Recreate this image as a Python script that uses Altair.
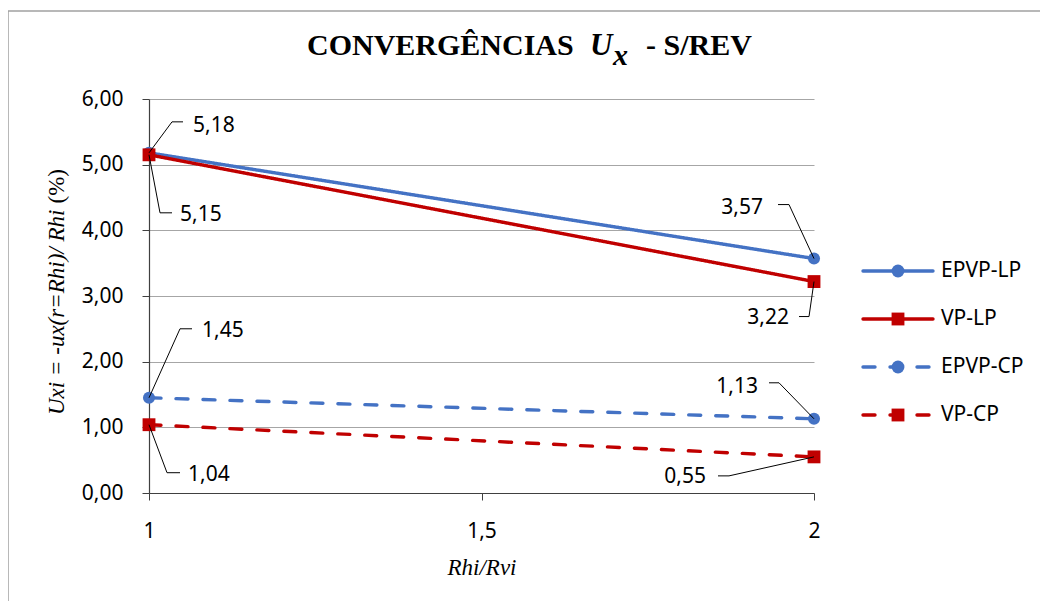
import altair as alt
import pandas as pd

# ---------------- data ----------------
x_vals = [1, 2]
series_names = ["EPVP-LP", "VP-LP", "EPVP-CP", "VP-CP"]
epvp_lp = [5.18, 3.57]
vp_lp = [5.15, 3.22]
epvp_cp = [1.45, 1.13]
vp_cp = [1.04, 0.55]
x_ticks = [1, 1.5, 2]
y_ticks = [0, 1, 2, 3, 4, 5, 6]

title_parts = ["CONVERGÊNCIAS", "U", "x", "- S/REV"]
y_title_parts = ["Uxi = -ux(r=Rhi)/ Rhi", "(%)"]
x_title = "Rhi/Rvi"

# ---------------- style ----------------
W, H = 665, 394
PAD = {"left": 141, "top": 91, "right": 227, "bottom": 108}
PX_X = W / (x_vals[1] - x_vals[0])
PX_Y = H / 6.0
BLUE, RED = "#4472C4", "#C00000"
colors = [BLUE, RED, BLUE, RED]
shapes = ["circle", "square", "circle", "square"]
dashes = [[1, 0], [1, 0], [12, 15], [12, 15]]
SANS = "Noto Sans"
SERIF = "Liberation Serif"
FS = 21

# label leader layout in pixels relative to the point:
# (elbow dx, elbow dy, end dx, end dy, text dx, text dy, align)
layout = {
    ("EPVP-LP", 0): (23, -31, 34, -31, 44, -27, "left"),
    ("VP-LP", 0): (11, 58, 23, 58, 31, 60, "left"),
    ("EPVP-LP", 1): (-25, -54, -36, -54, -51, -51, "right"),
    ("VP-LP", 1): (-5, 35, -15, 35, -25, 36, "right"),
    ("EPVP-CP", 0): (31, -69, 43, -69, 53, -67, "left"),
    ("VP-CP", 0): (18, 48, 31, 48, 39, 50, "left"),
    ("EPVP-CP", 1): (-35, -36, -45, -36, -56, -32, "right"),
    ("VP-CP", 1): (-85, 19, -96, 19, -108, 20, "right"),
}

all_vals = [epvp_lp, vp_lp, epvp_cp, vp_cp]
rows = []
for name, vals in zip(series_names, all_vals):
    for xv, yv in zip(x_vals, vals):
        rows.append({"series": name, "x": xv, "value": yv})
df = pd.DataFrame(rows)

lead_rows, text_rows = [], []
for name, vals in zip(series_names, all_vals):
    for i, (xv, yv) in enumerate(zip(x_vals, vals)):
        ex, ey, hx, hy, tx, ty, al = layout[(name, i)]
        lid = f"{name}-{i}"
        lead_rows += [
            {"lid": lid, "o": 0, "x": xv, "y": yv},
            {"lid": lid, "o": 1, "x": xv + ex / PX_X, "y": yv - ey / PX_Y},
            {"lid": lid, "o": 2, "x": xv + hx / PX_X, "y": yv - hy / PX_Y},
        ]
        text_rows.append({"x": xv + tx / PX_X, "y": yv - ty / PX_Y,
                          "label": f"{yv:.2f}".replace(".", ","), "align": al})
lead_df = pd.DataFrame(lead_rows)
text_df = pd.DataFrame(text_rows)

xscale = alt.Scale(domain=[1, 2], nice=False, zero=False)
yscale = alt.Scale(domain=[0, 6], nice=False)
cscale = alt.Scale(domain=series_names, range=colors)
dscale = alt.Scale(domain=series_names, range=dashes)

X = alt.X("x:Q", scale=xscale, axis=alt.Axis(
    values=x_ticks, title=None, grid=False, labelFlush=False,
    labelExpr="replace(format(datum.value, ''), '.', ',')",
    labelFont=SANS, labelFontSize=FS, labelColor="#000000",
    labelPadding=20, tickSize=7, tickColor="#404040",
    domainColor="#404040", domainWidth=1.2))
Y = alt.Y("value:Q", scale=yscale, axis=alt.Axis(
    values=y_ticks, title=None, grid=True, gridColor="#A6A6A6",
    labelFlush=False,
    labelExpr="replace(format(datum.value, '.2f'), '.', ',')",
    labelFont=SANS, labelFontSize=FS, labelColor="#000000",
    labelPadding=19, tickSize=7, tickColor="#404040",
    domainColor="#404040", domainWidth=1.2))

base = alt.Chart(df)
lines = base.mark_line(strokeWidth=3.4, strokeCap="round").encode(
    x=X, y=Y,
    color=alt.Color("series:N", scale=cscale, legend=None),
    strokeDash=alt.StrokeDash("series:N", scale=dscale, legend=None),
    detail="series:N")
circles = base.transform_filter(
    alt.FieldOneOfPredicate(field="series", oneOf=["EPVP-LP", "EPVP-CP"])
).mark_point(filled=True, opacity=1, shape="circle", size=145).encode(
    x="x:Q", y="value:Q",
    color=alt.Color("series:N", scale=cscale, legend=None))
squares = base.transform_filter(
    alt.FieldOneOfPredicate(field="series", oneOf=["VP-LP", "VP-CP"])
).mark_point(filled=True, opacity=1, shape="square", size=165).encode(
    x="x:Q", y="value:Q",
    color=alt.Color("series:N", scale=cscale, legend=None))

leaders = alt.Chart(lead_df).mark_line(color="#000000", strokeWidth=1).encode(
    x="x:Q", y="y:Q", detail="lid:N", order="o:O")
texts_l = alt.Chart(text_df).transform_filter(alt.datum.align == "left").mark_text(
    align="left", baseline="middle", font=SANS, fontSize=FS, color="#000000"
).encode(x="x:Q", y="y:Q", text="label:N")
texts_r = alt.Chart(text_df).transform_filter(alt.datum.align == "right").mark_text(
    align="right", baseline="middle", font=SANS, fontSize=FS, color="#000000"
).encode(x="x:Q", y="y:Q", text="label:N")

# titles
one = pd.DataFrame({"a": [0]})
def txt(s, x, y, **kw):
    return alt.Chart(one).mark_text(text=s, **kw).encode(x=alt.value(x), y=alt.value(y))

t1 = txt(title_parts[0], 158, -44, align="left", baseline="alphabetic",
         font=SERIF, fontSize=30, fontWeight="bold", color="#000000")
t2 = txt(title_parts[1], 441, -44, align="left", baseline="alphabetic",
         font=SERIF, fontSize=31, fontWeight="bold", fontStyle="italic", color="#000000")
t3 = txt(title_parts[2], 464, -34, align="left", baseline="alphabetic",
         font=SERIF, fontSize=30, fontWeight="bold", fontStyle="italic", color="#000000")
t4 = txt(title_parts[3], 497, -44, align="left", baseline="alphabetic",
         font=SERIF, fontSize=30, fontWeight="bold", color="#000000")
yt1 = txt(y_title_parts[0], -92, 316, align="left", baseline="middle", angle=270,
          font=SERIF, fontSize=23, fontStyle="italic", color="#000000")
yt2 = txt(y_title_parts[1], -92, 70, align="right", baseline="middle", angle=270,
          font=SERIF, fontSize=23, color="#000000")
xtl = txt(x_title, 333, 469, align="center", baseline="middle",
          font=SERIF, fontSize=23, fontStyle="italic", color="#000000")

# outer frame
frame_top = alt.Chart(one).mark_rule(color="#A0A0A0", strokeWidth=1.5).encode(
    x=alt.value(-142), x2=alt.value(891), y=alt.value(-88), y2=alt.value(-88))
frame_left = alt.Chart(one).mark_rule(color="#A0A0A0", strokeWidth=1.5).encode(
    x=alt.value(-141), x2=alt.value(-141), y=alt.value(-88), y2=alt.value(510))

main = alt.layer(frame_top, frame_left, lines, circles, squares, leaders,
                 texts_l, texts_r, t1, t2, t3, t4, yt1, yt2, xtl)

# legend
leg_df = pd.DataFrame({"series": series_names})
LY = alt.Y("series:N", scale=alt.Scale(type="point", domain=series_names,
                                       range=[172, 316], padding=0), axis=None)
leg_line = alt.Chart(leg_df).mark_rule(strokeWidth=3.4, strokeCap="round").encode(
    x=alt.value(714), x2=alt.value(784), y=LY,
    color=alt.Color("series:N", scale=cscale, legend=None),
    strokeDash=alt.StrokeDash("series:N", scale=dscale, legend=None))
leg_pts = alt.Chart(leg_df).mark_point(filled=True, opacity=1).encode(
    x=alt.value(749), y=LY,
    color=alt.Color("series:N", scale=cscale, legend=None),
    shape=alt.Shape("series:N", scale=alt.Scale(domain=series_names, range=shapes), legend=None),
    size=alt.value(165))
leg_txt = alt.Chart(leg_df).mark_text(align="left", baseline="middle", font=SANS,
                                      fontSize=FS, color="#000000").encode(
    x=alt.value(792), y=LY, text="series:N")
legend = alt.layer(leg_line, leg_pts, leg_txt)

chart = alt.layer(main, legend).resolve_scale(y="independent").properties(
    width=W, height=H,
    autosize=alt.AutoSizeParams(type="none"),
    padding=PAD,
    background="#FFFFFF",
).configure_view(stroke=None)

chart.save("out.html", embed_options={"renderer": "svg", "actions": False})
